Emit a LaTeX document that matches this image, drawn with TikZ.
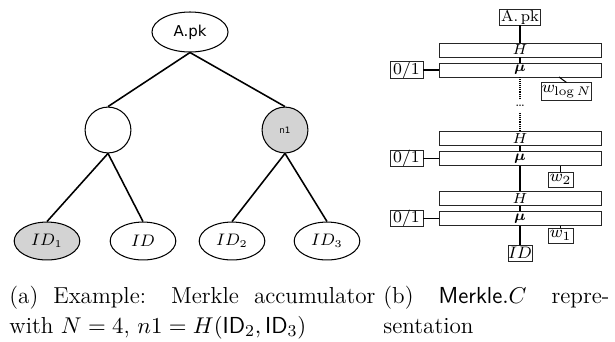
\documentclass[tikz,border=0pt]{standalone}
\usepackage{amsmath}
\usepackage{fontspec}
\newfontfamily\dvs{DejaVu Sans}
\usetikzlibrary{shapes.geometric}
\definecolor{gfill}{RGB}{211,211,211}
\begin{document}
\begin{tikzpicture}[x=0.48pt,y=-0.48pt,
  edge/.style={line width=0.75pt},
  ell/.style={draw, ellipse, line width=0.5pt, inner sep=0pt},
  circ/.style={draw, circle, line width=0.5pt, inner sep=0pt, minimum size=22pt},
  leaf/.style={ell, minimum width=31.5pt, minimum height=18.2pt, font=\fontsize{7.8}{8}\selectfont},
  box/.style={draw=black!85, line width=0.45pt, inner sep=0pt, font=\fontsize{7.5}{8}\selectfont},
  wide/.style={box, minimum width=77.8pt, minimum height=6.7pt},
  zbox/.style={box, minimum width=15.8pt, minimum height=6.7pt, font=\fontsize{8}{8}\selectfont},
  wbox/.style={box, minimum width=12pt, minimum height=7.2pt, font=\fontsize{8}{8}\selectfont},
  link/.style={line width=0.5pt},
  dotline/.style={line width=0.5pt, dash pattern=on 0.45pt off 0.45pt},
  capline/.style={anchor=base west, inner sep=0pt, font=\fontsize{11.1}{14.4}\selectfont}]
\useasboundingbox (0,0) rectangle (615,341);
% ---- (a) tree
\node[ell, minimum width=36.5pt, minimum height=19.2pt, font=\dvs\fontsize{7.2}{8}\selectfont] (apk) at (190,32) {A.pk};
\node[circ] (lc) at (108,130) {};
\node[circ, fill=gfill, font=\dvs\fontsize{4.2}{5}\selectfont] (n1) at (285,130) {n1};
\node[leaf, fill=gfill] (id1) at (47,241) {$ID_1$};
\node[leaf] (id) at (143,241) {$ID$};
\node[leaf] (id2) at (232,241) {$ID_2$};
\node[leaf] (id3) at (327,241) {$ID_3$};
\draw[edge] (apk.south) -- (lc.north);
\draw[edge] (apk.south) -- (n1.north);
\draw[edge] (lc.south) -- (id1.north);
\draw[edge] (lc.south) -- (id.north);
\draw[edge] (n1.south) -- (id2.north);
\draw[edge] (n1.south) -- (id3.north);
% ---- (b) Merkle.C
\node[box, minimum width=19.7pt, minimum height=7.7pt] (pk) at (520,17) {A.\,pk};
\node[wide] (h1) at (520,50) {$H$};
\node[wide] (m1) at (520,70) {$\boldsymbol{\mu}$};
\node[zbox] (z1) at (406.5,70) {0/1};
\node[box, minimum width=23.5pt, minimum height=8.2pt, font=\fontsize{8}{8}\selectfont] (wl) at (566.5,91.5) {$w_{\log N}$};
\coordinate (m1w) at (559,77);
\coordinate (d1) at (520,99);
\node[inner sep=0pt, font=\fontsize{6}{6}\selectfont] (dots) at (520,106) {\dots};
\coordinate (d2) at (520,113);
\node[wide] (h2) at (520,138.5) {$H$};
\node[wide] (m2) at (520,158.5) {$\boldsymbol{\mu}$};
\node[zbox] (z2) at (406.5,158.5) {0/1};
\node[wbox] (w2) at (560.5,179.5) {$w_2$};
\node[wide] (h3) at (520,198.5) {$H$};
\node[wide] (m3) at (520,218.5) {$\boldsymbol{\mu}$};
\node[zbox] (z3) at (406.5,218.5) {0/1};
\node[wbox] (w1) at (560.5,235.5) {$w_1$};
\node[box, minimum width=10.6pt, minimum height=7.7pt, font=\fontsize{8}{8}\selectfont] (idb) at (520,253) {$ID$};
\draw[link] (pk.south) -- (h1.north);
\draw[link] (h1.south) -- (m1.north);
\draw[link] (z1.east) -- (m1.west);
\draw[link] (m1w) -- (wl.north);
\draw[dotline] (m1.south) -- (d1);
\draw[dotline] (d2) -- (h2.north);
\draw[link] (h2.south) -- (m2.north);
\draw[link] (z2.east) -- (m2.west);
\draw[link] (w2.north) -- (w2.north |- m2.south);
\draw[link] (m2.south) -- (h3.north);
\draw[link] (h3.south) -- (m3.north);
\draw[link] (z3.east) -- (m3.west);
\draw[link] (w1.north) -- (w1.north |- m3.south);
\draw[link] (m3.south) -- (idb.north);
% ---- captions
\node[capline] (ca1) at (9,303) {\makebox[175.7pt][s]{(a) Example: Merkle accumulator}};
\node[capline] (ca2) at (9,333) {with $N=4$, $n1=H(\mathsf{ID}_2,\mathsf{ID}_3)$};
\node[capline] (cb1) at (383,303) {\makebox[108.5pt][l]{(b)\hfill$\mathsf{Merkle}.C$\hfill repre\char"2D}};
\node[capline] (cb2) at (383,333) {sentation};
\end{tikzpicture}
\end{document}
